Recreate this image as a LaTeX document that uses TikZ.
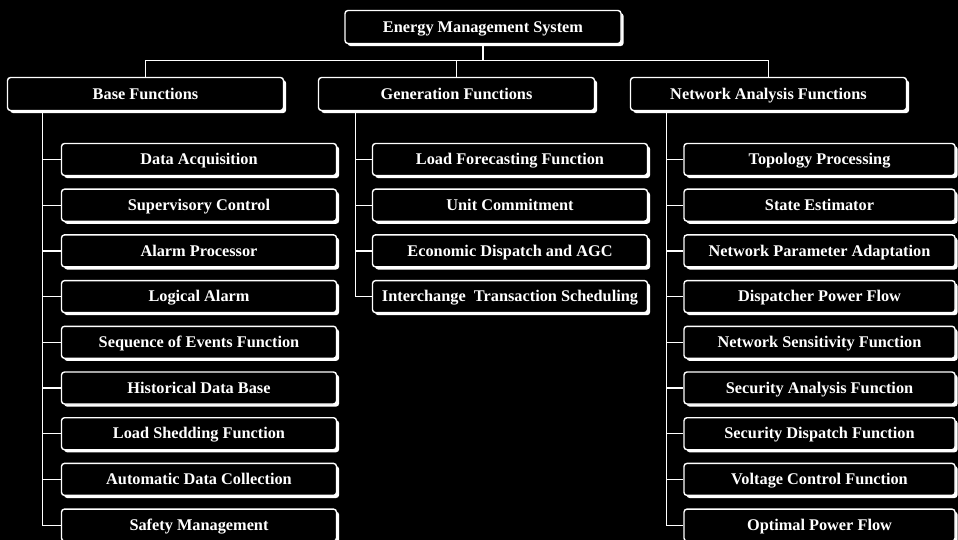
\documentclass[tikz,border=0pt]{standalone}
\usepackage{fontspec}
\setmainfont{Liberation Serif}
\usetikzlibrary{shadows}
\begin{document}
\begin{tikzpicture}[x=1pt,y=-1pt,
  box/.style={draw=white, line width=1.4pt, fill=black, rounded corners=3pt,
    text=white, font=\bfseries\fontsize{16.3}{18}\selectfont, inner sep=0pt,
    text height=11pt, text depth=0.8pt,
    drop shadow={shadow xshift=2.6pt, shadow yshift=-2.6pt, fill=white, opacity=1}},
  topbox/.style={box, minimum width=276pt, minimum height=33pt},
  kidbox/.style={box, minimum width=275pt, minimum height=32pt},
  conn/.style={draw=white, line width=1.2pt}]
\fill[black] (0,0) rectangle (958,540);
\useasboundingbox (0,0) rectangle (958,540);

\node[topbox] (ems) at (483,27) {Energy Management System};
\node[topbox] (bf) at (145.5,94) {Base Functions};
\node[topbox] (gf) at (456.5,94) {Generation Functions};
\node[topbox] (nf) at (768.5,94) {Network Analysis Functions};

\foreach \t [count=\i] in {Data Acquisition, Supervisory Control, Alarm Processor,
  Logical Alarm, Sequence of Events Function, Historical Data Base,
  Load Shedding Function, Automatic Data Collection, Safety Management}
  \node[kidbox] (b\i) at (199, {159.5+45.7*(\i-1)}) {\t};

\foreach \t [count=\i] in {Load Forecasting Function, Unit Commitment,
  Economic Dispatch and AGC, {Interchange\ \ Transaction Scheduling}}
  \node[kidbox] (g\i) at (510, {159.5+45.7*(\i-1)}) {\t};

\foreach \t [count=\i] in {Topology Processing, State Estimator,
  Network Parameter Adaptation, Dispatcher Power Flow,
  Network Sensitivity Function, Security Analysis Function,
  Security Dispatch Function, Voltage Control Function, Optimal Power Flow}
  \node[kidbox, minimum width=271pt] (n\i) at (819.5, {159.5+45.7*(\i-1)}) {\t};

% top level connectors
\draw[conn] (ems.south) -- ([yshift=16pt]ems.south |- bf.north);
\draw[conn] (bf.north) -- ++(0,-16) -| (nf.north);
\draw[conn] (gf.north) -- ++(0,-16);

% trunks
\draw[conn] ([xshift=-18pt]bf.south -| b1.west) |- (b9.west);
\foreach \i in {1,...,8} \draw[conn] (b\i.west) -- ++(-18,0);
\draw[conn] ([xshift=-16pt]gf.south -| g1.west) |- (g4.west);
\foreach \i in {1,...,3} \draw[conn] (g\i.west) -- ++(-16,0);
\draw[conn] ([xshift=-17pt]nf.south -| n1.west) |- (n9.west);
\foreach \i in {1,...,8} \draw[conn] (n\i.west) -- ++(-17,0);
\end{tikzpicture}
\end{document}
